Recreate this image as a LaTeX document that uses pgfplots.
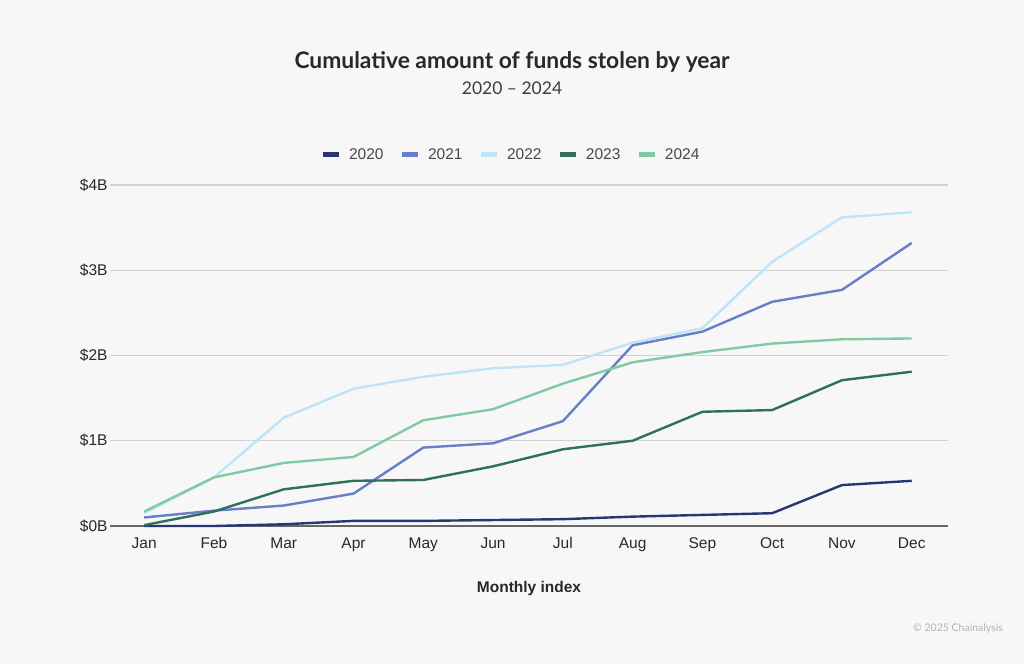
\documentclass[border=0pt]{standalone}
\usepackage{fontspec}
\setmainfont{Liberation Sans}
\newfontfamily\titlefont{Lato}
\usepackage{pgfplots}
\pgfplotsset{compat=1.18}
\definecolor{bg}{RGB}{247,247,247}
\definecolor{c2020}{RGB}{40,55,115}
\definecolor{c2021}{RGB}{104,127,200}
\definecolor{c2022}{RGB}{192,228,247}
\definecolor{c2023}{RGB}{46,112,92}
\definecolor{c2024}{RGB}{128,202,162}
\definecolor{txt}{RGB}{40,40,40}
\begin{document}
\begin{tikzpicture}
  \fill[bg] (0pt,0pt) rectangle (1024pt,664pt);
  \node[font=\titlefont\bfseries\fontsize{22.8}{26}\selectfont, text=txt] at (512pt,602pt) {Cumulative amount of funds stolen by year};
  \node[font=\titlefont\fontsize{17.5}{20}\selectfont, text=txt!90] at (512pt,576pt) {2020 – 2024};
  \begin{axis}[
    at={(110pt,138pt)}, anchor=south west,
    scale only axis, width=838pt, height=341pt,
    xmin=-0.49, xmax=11.52, ymin=0, ymax=4,
    xtick={0,...,11},
    xticklabels={Jan,Feb,Mar,Apr,May,Jun,Jul,Aug,Sep,Oct,Nov,Dec},
    ytick={0,1,2,3,4},
    yticklabels={\$0B,\$1B,\$2B,\$3B,\$4B},
    tick style={draw=none},
    ymajorgrids, grid style={gray!35, line width=1.2pt},
    axis x line*=bottom, axis y line*=left,
    y axis line style={draw=none},
    x axis line style={gray!80!black, line width=1.3pt, -},
    ticklabel style={font=\fontsize{15.5}{18}\selectfont, text=txt},
    yticklabel style={xshift=1pt},
    xticklabel style={yshift=-8pt},
    xlabel={\textbf{Monthly index}},
    xlabel style={font=\fontsize{15.5}{18}\selectfont, text=txt, yshift=-23pt},
    legend columns=5,
    legend style={at={(0.5,1)}, anchor=south, yshift=20pt, xshift=-18pt, draw=none, fill=none,
      font=\fontsize{15.5}{18}\selectfont, text=txt!85,
      /tikz/every odd column/.append style={column sep=6pt},
      /tikz/every even column/.append style={column sep=14pt}},
    legend image code/.code={\draw[line width=4.5pt] (0pt,0pt) -- (16pt,0pt);},
    every axis plot/.append style={line width=2.4pt, line join=round},
    clip=false,
  ]
    \addplot[c2020] coordinates {(0,0) (1,0) (2,0.02) (3,0.06) (4,0.06) (5,0.07) (6,0.08) (7,0.11) (8,0.13) (9,0.15) (10,0.48) (11,0.53)};
    \addplot[c2021] coordinates {(0,0.10) (1,0.18) (2,0.24) (3,0.38) (4,0.92) (5,0.97) (6,1.23) (7,2.12) (8,2.28) (9,2.63) (10,2.77) (11,3.32)};
    \addplot[c2022] coordinates {(0,0.15) (1,0.57) (2,1.27) (3,1.61) (4,1.75) (5,1.85) (6,1.89) (7,2.15) (8,2.32) (9,3.10) (10,3.62) (11,3.68)};
    \addplot[c2023] coordinates {(0,0.01) (1,0.17) (2,0.43) (3,0.53) (4,0.54) (5,0.70) (6,0.90) (7,1.00) (8,1.34) (9,1.36) (10,1.71) (11,1.81)};
    \addplot[c2024] coordinates {(0,0.17) (1,0.57) (2,0.74) (3,0.81) (4,1.24) (5,1.37) (6,1.67) (7,1.92) (8,2.04) (9,2.14) (10,2.19) (11,2.20)};
    \legend{2020,2021,2022,2023,2024}
  \end{axis}
  \node[font=\titlefont\fontsize{10.5}{12}\selectfont, text=gray!60] at (958pt,35pt) {© 2025 Chainalysis};
\end{tikzpicture}
\end{document}
